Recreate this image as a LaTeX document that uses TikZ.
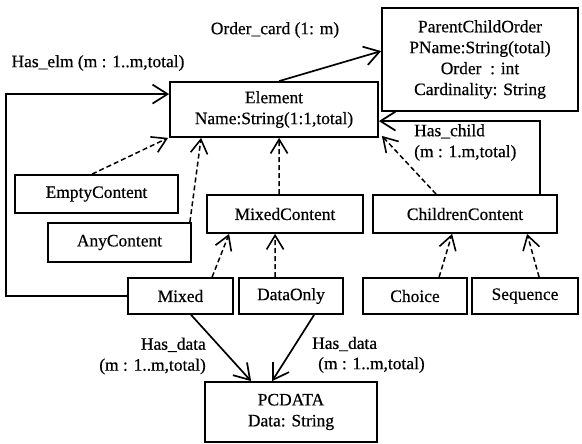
\documentclass[tikz,border=0pt]{standalone}
\usepackage{fontspec}
\setmainfont{Liberation Serif}[RawFeature={embolden=0.5}]
\usetikzlibrary{arrows.meta,calc}
\begin{document}
\begin{tikzpicture}[x=1bp,y=-1bp,
  font=\fontsize{17.5}{21}\selectfont,
  box/.style={draw,line width=1.8bp,inner sep=0pt,align=center},
  solidarrow/.style={line width=1.7bp,-{Straight Barb[length=15bp,width=19bp,line width=1.7bp]}},
  dasharrow/.style={line width=1.5bp,dash pattern=on 5bp off 3bp,-{Straight Barb[length=14bp,width=17bp,line width=1.6bp]}},
  lbl/.style={inner sep=0pt}]
\useasboundingbox (0,0) rectangle (582,444);
% boxes
\node[box,minimum width=208bp,minimum height=55bp] (Element) at (274,109.5) {Element\\Name:String(1:1,total)};
\node[box,minimum width=196bp,minimum height=103bp] (PCO) at (480,59.5) {ParentChildOrder\\PName:String(total)\\Order\ \ : int\\Cardinality: String};
\node[box,minimum width=163bp,minimum height=38bp] (EC) at (96.5,194) {EmptyContent};
\node[box,minimum width=143bp,minimum height=39bp] (AC) at (119.5,242.5) {AnyContent};
\node[box,minimum width=156bp,minimum height=38bp] (MC) at (285,214) {MixedContent};
\node[box,minimum width=184bp,minimum height=38bp] (CC) at (465,214) {ChildrenContent};
\node[box,minimum width=105bp,minimum height=36bp] (Mixed) at (180.5,296) {Mixed};
\node[box,minimum width=104bp,minimum height=36bp] (DataOnly) at (291,296) {DataOnly};
\node[box,minimum width=104bp,minimum height=36bp] (Choice) at (415,296) {Choice};
\node[box,minimum width=106bp,minimum height=36bp] (Seq) at (525,296) {Sequence};
\node[box,minimum width=172bp,minimum height=60bp] (PCDATA) at (291,412) {PCDATA\\Data: String};
% solid connectors
\draw[solidarrow] ($(Element.north west)+(110,0)$) -- ($(PCO.north west)+(0,44)$);
\draw[solidarrow] (Mixed.west) -- ++(-121,0) |- ($(Element.north west)+(0,13)$);
\draw[solidarrow] ($(CC.north west)+(168,0)$) |- ($(Element.north east)+(0,40)$);
\draw[solidarrow] ($(Mixed.south west)+(64,0)$) -- ($(PCDATA.north west)+(47,0)$);
\draw[solidarrow] ($(DataOnly.south west)+(76,0)$) -- ($(PCDATA.north west)+(68,0)$);
% dashed connectors
\draw[dasharrow] ($(EC.north west)+(78,0)$) -- ($(Element.south west)+(-1,0)$);
\draw[dasharrow] ($(AC.north east)+(-2,0)$) -- ($(Element.south west)+(32,0)$);
\draw[dasharrow] ($(MC.north west)+(73,0)$) -- ($(Element.south west)+(110,0)$);
\draw[dasharrow] ($(CC.north west)+(64,0)$) -- ($(Element.south east)+(3,-2)$);
\draw[dasharrow] ($(Mixed.north west)+(85,0)$) -- ($(MC.south west)+(23,0)$);
\draw[dasharrow] ($(DataOnly.north west)+(37,0)$) -- ($(MC.south west)+(69,0)$);
\draw[dasharrow] ($(Choice.north west)+(77,0)$) -- ($(CC.south west)+(80,0)$);
\draw[dasharrow] ($(Seq.north west)+(68,0)$) -- ($(CC.south west)+(155,0)$);
% labels
\node[lbl] (lOrder) at (275,30) {Order\_card (1: m)};
\node[lbl] (lElm) at (98,63) {Has\_elm (m : 1..m,total)};
\node[lbl,anchor=west,align=left] (lChild) at (414,142.5) {Has\_child\\(m : 1.m,total)};
\node[lbl,anchor=east,align=right] (lData1) at (206,356) {Has\_data\\(m : 1..m,total)};
\node[lbl,anchor=west] (lData2a) at (312,344) {Has\_data};
\node[lbl,anchor=west] (lData2b) at (318,365) {(m : 1..m,total)};
\end{tikzpicture}
\end{document}
